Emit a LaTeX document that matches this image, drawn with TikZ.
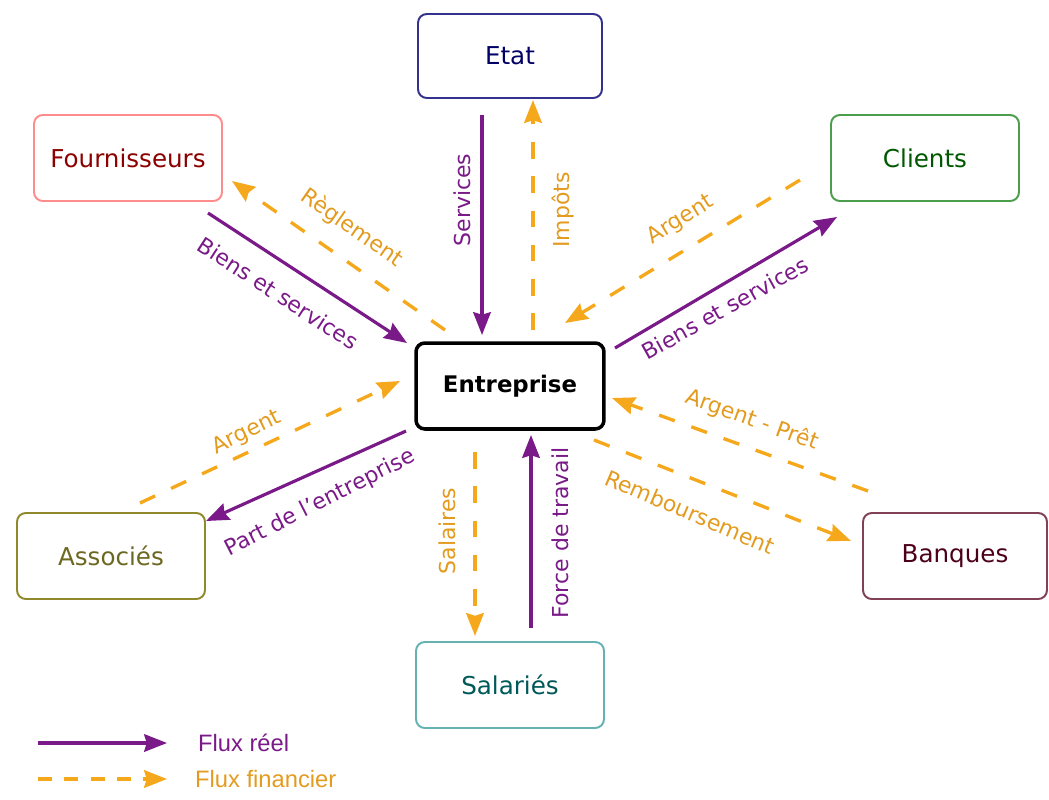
\documentclass[tikz,border=0pt]{standalone}
\usepackage{fontspec}
\setmainfont{DejaVu Sans}
\newfontfamily\legendfont{Liberation Sans}
\usetikzlibrary{arrows.meta}

\definecolor{realc}{HTML}{7A1A88}
\definecolor{finc}{HTML}{F5A81C}
\definecolor{finlab}{HTML}{E39B1F}

\begin{document}
\begin{tikzpicture}[x=0.02cm,y=-0.02cm,
  box/.style={draw, line width=1.1pt, rounded corners=5pt, fill=white,
    minimum width=3.76cm, minimum height=1.72cm, font=\fontsize{14}{16}\selectfont},
  real/.style={draw=realc, line width=1.8pt, -{Stealth[length=13pt,width=10pt,inset=1.5pt]}},
  fin/.style={draw=finc, line width=1.9pt, dash pattern=on 9.5pt off 10pt,
    -{Stealth[length=13pt,width=10pt,inset=1.5pt]}},
  reallab/.style={text=realc, font=\fontsize{12.5}{14}\selectfont, inner sep=1pt},
  finlab/.style={text=finlab, font=\fontsize{12.5}{14}\selectfont, inner sep=1pt},
]
\useasboundingbox (0,0) rectangle (1049,799);

% organisations
\node[box, draw=blue!45!black!80, text=blue!40!black, minimum width=3.68cm, minimum height=1.68cm] (etat) at (510,56) {Etat};
\node[box, draw=red!45, text=red!55!black] (fourn) at (128,158) {Fournisseurs};
\node[box, draw=green!45!black!70, text=green!35!black] (clients) at (925,158) {Clients};
\node[box, draw=black, line width=2pt, font=\bfseries\fontsize{13}{15}\selectfont] (ent) at (510,386) {Entreprise};
\node[box, draw=olive!70!gray, text=olive!70!black] (assoc) at (111,556) {Associés};
\node[box, draw=purple!45!black!75, text=purple!40!black, minimum width=3.68cm] (banques) at (955,556) {Banques};
\node[box, draw=teal!60, text=teal!70!black] (salaries) at (510,685) {Salariés};

% arrow end points
\coordinate (etA) at (482,115);  \coordinate (etB) at (482,335);
\coordinate (imA) at (533,330);  \coordinate (imB) at (533,100);
\coordinate (foA) at (208,213);  \coordinate (foB) at (407,343);
\coordinate (reA) at (445,330);  \coordinate (reB) at (232,181);
\coordinate (clA) at (800,180);  \coordinate (clB) at (565,323);
\coordinate (bsA) at (615,348);  \coordinate (bsB) at (837,217);
\coordinate (asA) at (140,503);  \coordinate (asB) at (400,381);
\coordinate (paA) at (406,431);  \coordinate (paB) at (206,521);
\coordinate (prA) at (868,491);  \coordinate (prB) at (612,398);
\coordinate (rbA) at (594,440);  \coordinate (rbB) at (851,541);
\coordinate (saA) at (475,452);  \coordinate (saB) at (475,636);
\coordinate (ftA) at (531,628);  \coordinate (ftB) at (531,435);

% flows
\draw[real] (etA) -- (etB);
\draw[fin]  (imA) -- (imB);
\draw[real] (foA) -- (foB);
\draw[fin]  (reA) -- (reB);
\draw[fin]  (clA) -- (clB);
\draw[real] (bsA) -- (bsB);
\draw[fin]  (asA) -- (asB);
\draw[real] (paA) -- (paB);
\draw[fin]  (prA) -- (prB);
\draw[fin]  (rbA) -- (rbB);
\draw[fin]  (saA) -- (saB);
\draw[real] (ftA) -- (ftB);

% flow labels
\node[reallab, rotate=90]  (lserv) at (462,200) {Services};
\node[finlab, rotate=90]   (limp)  at (563,210) {Impôts};
\node[finlab, rotate=-35]  (lregl) at (352,228) {Règlement};
\node[reallab, rotate=-33] (lbsl)  at (278,293) {Biens et services};
\node[finlab, rotate=32]   (largc) at (681,220) {Argent};
\node[reallab, rotate=29]  (lbsr)  at (725,308) {Biens et services};
\node[finlab, rotate=26]   (larga) at (247,433) {Argent};
\node[reallab, rotate=27]  (lpart) at (320,503) {Part de l'entreprise};
\node[finlab, rotate=-20]  (lpret) at (752,420) {Argent - Prêt};
\node[finlab, rotate=-23]  (lremb) at (690,512) {Remboursement};
\node[finlab, rotate=90]   (lsal)  at (447,531) {Salaires};
\node[reallab, rotate=90]  (lforc) at (560,533) {Force de travail};

% legend
\coordinate (lgA) at (38,743);  \coordinate (lgB) at (167,743);
\coordinate (lfA) at (38,779);  \coordinate (lfB) at (167,779);
\draw[real] (lgA) -- (lgB);
\draw[fin, dash pattern=on 8pt off 7pt] (lfA) -- (lfB);
\node[anchor=west, text=realc, font=\legendfont\fontsize{13.5}{15}\selectfont] (lgr) at (192,743) {Flux réel};
\node[anchor=west, text=finlab, font=\legendfont\fontsize{13.5}{15}\selectfont] (lgf) at (189,779) {Flux financier};
\end{tikzpicture}
\end{document}
